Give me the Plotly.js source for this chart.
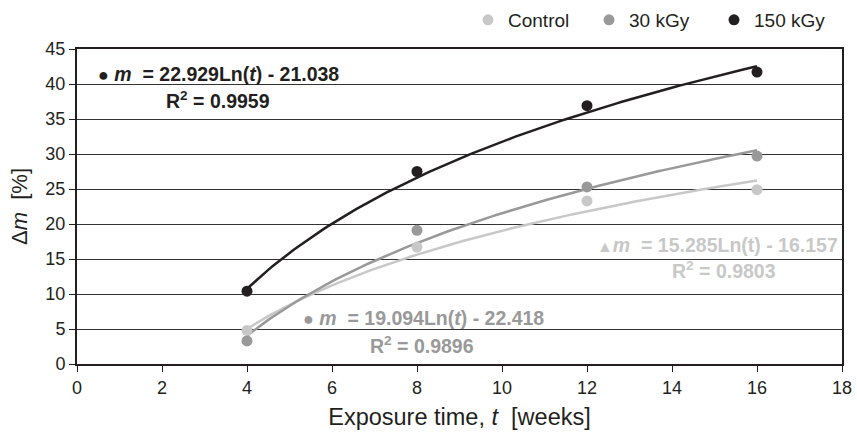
<!DOCTYPE html>
<html><head><meta charset="utf-8">
<script src="https://cdn.plot.ly/plotly-3.0.1.min.js"></script>
<style>html,body{margin:0;padding:0;background:#fff}</style>
</head><body><div id="chart" style="width:857px;height:441px"></div>
<script>
const weeks = [4, 8, 12, 16];
const seriesNames = ['Control', '30 kGy', '150 kGy'];
const controlVals = [4.8, 16.7, 23.3, 24.9];
const kgy30Vals = [3.3, 19.1, 25.3, 29.7];
const kgy150Vals = [10.4, 27.5, 36.9, 41.7];
// logarithmic trendline coefficients (a*ln(t)+b) as printed on the chart
const trendA = [15.285, 19.094, 22.929];
const trendB = [-16.157, -22.418, -21.038];
const rSquared = ['0.9803', '0.9896', '0.9959'];
const xTicks = [0, 2, 4, 6, 8, 10, 12, 14, 16, 18];
const yTicks = [0, 5, 10, 15, 20, 25, 30, 35, 40, 45];

const colors = ['#c8c8c8', '#999999', '#231f20'];
const values = [controlVals, kgy30Vals, kgy150Vals];
const legendIds = ['legend', 'legend2', 'legend3'];
const legendMarkerPx = [488, 609, 734];

const traces = [];
for (let s = 0; s < 3; s++) {
  const tx = [], ty = [];
  for (let i = 0; i <= 120; i++) {
    const t = weeks[0] + (weeks[weeks.length-1] - weeks[0]) * i / 120;
    tx.push(t); ty.push(trendA[s] * Math.log(t) + trendB[s]);
  }
  traces.push({x: tx, y: ty, mode: 'lines', line: {color: colors[s], width: 2.5},
    showlegend: false, hoverinfo: 'skip'});
}
for (let s = 0; s < 3; s++) {
  traces.push({x: weeks, y: values[s], mode: 'markers', name: seriesNames[s],
    legend: legendIds[s],
    marker: {color: colors[s], size: 11, symbol: 'circle'}});
}

const eqText = (s, dot, tItalic) =>
  dot + '<i>m</i>  = ' + trendA[s].toFixed(3) + 'Ln(' + (tItalic ? '<i>t</i>' : 't') + ') - ' + Math.abs(trendB[s]).toFixed(3);

const annFont = (c) => ({family: 'Liberation Sans, Arial, sans-serif', size: 19.5, color: c});
const dotSpan = '<span style="font-size:18px">●</span> ';
const annotations = [
  {xref: 'paper', yref: 'paper', x: (96-77)/765, y: (364-74)/315, xanchor: 'left', yanchor: 'middle', showarrow: false,
   text: '<b>' + eqText(2, dotSpan, true) + '</b>', font: annFont(colors[2])},
  {xref: 'paper', yref: 'paper', x: (218-77)/765, y: (364-100)/315, xanchor: 'center', yanchor: 'middle', showarrow: false,
   text: '<b>R<sup>2</sup> = ' + rSquared[2] + '</b>', font: annFont(colors[2])},
  {xref: 'paper', yref: 'paper', x: (301-77)/765, y: (364-318)/315, xanchor: 'left', yanchor: 'middle', showarrow: false,
   text: '<b>' + eqText(1, dotSpan, true) + '</b>', font: annFont(colors[1])},
  {xref: 'paper', yref: 'paper', x: (422-77)/765, y: (364-345)/315, xanchor: 'center', yanchor: 'middle', showarrow: false,
   text: '<b>R<sup>2</sup> = ' + rSquared[1] + '</b>', font: annFont(colors[1])},
  {xref: 'paper', yref: 'paper', x: (840-77)/765, y: (364-245)/315, xanchor: 'right', yanchor: 'middle', showarrow: false,
   text: '<b>' + eqText(0, '<span style="font-size:16px">▲</span>', false) + '</b>', font: annFont(colors[0])},
  {xref: 'paper', yref: 'paper', x: (724-77)/765, y: (364-270)/315, xanchor: 'center', yanchor: 'middle', showarrow: false,
   text: '<b>R<sup>2</sup> = ' + rSquared[0] + '</b>', font: annFont(colors[0])}
];

const legendCfg = (px) => ({orientation: 'h', x: (px - 20) / 857, xanchor: 'left', xref: 'container',
  y: 1 - 20/441, yanchor: 'middle', yref: 'container', bgcolor: 'rgba(0,0,0,0)',
  font: {size: 19, color: '#231f20'}, itemwidth: 30});

const layout = {
  width: 857, height: 441,
  margin: {l: 77, r: 15, t: 49, b: 77, autoexpand: false},
  paper_bgcolor: '#fff', plot_bgcolor: '#fff',
  font: {family: 'Liberation Sans, Arial, sans-serif', size: 18, color: '#231f20'},
  showlegend: true,
  legend: legendCfg(legendMarkerPx[0]),
  legend2: legendCfg(legendMarkerPx[1]),
  legend3: legendCfg(legendMarkerPx[2]),
  xaxis: {range: [0, 18], tickvals: xTicks, ticktext: xTicks.map(String),
    ticks: 'outside', ticklen: 6, tickcolor: '#231f20', showgrid: false, zeroline: false,
    showline: true, linecolor: '#231f20', linewidth: 2, mirror: true,
    tickfont: {size: 18}, fixedrange: true,
    title: {text: 'Exposure time, <i>t</i>  [weeks]', font: {size: 23.5}, standoff: 12}},
  yaxis: {range: [0, 45], tickvals: yTicks, ticktext: yTicks.map(String),
    ticks: 'outside', ticklen: 6, tickcolor: '#231f20', showgrid: true, gridcolor: '#333333', gridwidth: 1,
    zeroline: false, showline: true, linecolor: '#231f20', linewidth: 2, mirror: true,
    tickfont: {size: 18}, fixedrange: true,
    title: {text: 'Δ<i>m</i>  [%]', font: {size: 22}, standoff: 12}},
  annotations: annotations
};

Plotly.newPlot('chart', traces, layout, {displayModeBar: false, staticPlot: true});
</script></body></html>
